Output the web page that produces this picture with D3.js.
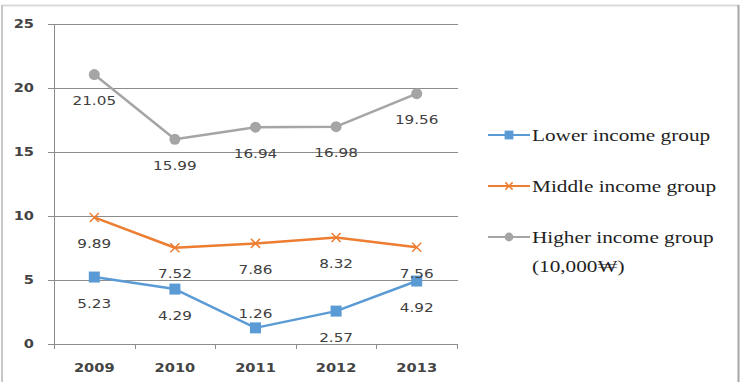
<!DOCTYPE html>
<html>
<head>
<meta charset="utf-8">
<script src="https://cdn.jsdelivr.net/npm/d3@7"></script>
<style>
  body { margin: 0; background: #fff; }
</style>
</head>
<body>
<script>
// chart data
const years = ["2009", "2010", "2011", "2012", "2013"];
const lowerIncome = [5.23, 4.29, 1.26, 2.57, 4.92];
const middleIncome = [9.89, 7.52, 7.86, 8.32, 7.56];
const higherIncome = [21.05, 15.99, 16.94, 16.98, 19.56];
const yTicks = [0, 5, 10, 15, 20, 25];
const seriesNames = ["Lower income group", "Middle income group", "Higher income group"];
const unitLabel = "(10,000\u20A9)";

const w = 747, h = 382;
const plot = { left: 54, right: 457, top: 24, bottom: 344 };
const stretch = 1.22; // reference text is wider than normal

const svg = d3.select("body").append("svg")
  .attr("width", w).attr("height", h);

// outer frame
svg.append("line").attr("x1", 2).attr("x2", 739).attr("y1", 5.5).attr("y2", 5.5)
  .attr("stroke", "#d9d9d9").attr("stroke-width", 2);
svg.append("line").attr("x1", 2).attr("x2", 2).attr("y1", 5).attr("y2", h)
  .attr("stroke", "#c8c8c8").attr("stroke-width", 2);
svg.append("line").attr("x1", 738.5).attr("x2", 738.5).attr("y1", 5).attr("y2", h)
  .attr("stroke", "#a6a6a6").attr("stroke-width", 2);

let x = d3.scaleBand().domain(years).range([plot.left, plot.right]);
let y = d3.scaleLinear().domain([0, 25]).range([plot.bottom, plot.top]);
const cx = d => x(d) + x.bandwidth() / 2;

// stretched text helper
function label(g, tx, ty, str, opts) {
  g.append("text")
    .attr("transform", `translate(${tx},${ty}) scale(${opts.sx || stretch},1)`)
    .attr("text-anchor", opts.anchor || "middle")
    .attr("dominant-baseline", "central")
    .attr("font-family", opts.family || "'DejaVu Sans', Verdana, sans-serif")
    .attr("font-size", opts.size || 12)
    .attr("font-weight", opts.weight || "normal")
    .attr("fill", opts.fill || "#404040")
    .text(str);
}

// grid lines + y labels
const grid = svg.append("g");
yTicks.forEach(t => {
  grid.append("line")
    .attr("x1", plot.left - 6).attr("x2", plot.right + 1)
    .attr("y1", Math.round(y(t)) + 0.5).attr("y2", Math.round(y(t)) + 0.5)
    .attr("stroke", "#8c8c8c").attr("stroke-width", 1);
  label(grid, 34, y(t), String(t), { anchor: "end", size: 12, weight: "bold", fill: "#444" });
});

// axes
svg.append("line").attr("x1", plot.left + 0.5).attr("x2", plot.left + 0.5)
  .attr("y1", plot.top).attr("y2", plot.bottom + 5).attr("stroke", "#8c8c8c");
const xb = x.domain().map(d => x(d)).concat([plot.right]);
xb.forEach(v => {
  svg.append("line").attr("x1", Math.round(v) + 0.5).attr("x2", Math.round(v) + 0.5)
    .attr("y1", plot.bottom).attr("y2", plot.bottom + 5).attr("stroke", "#8c8c8c");
});
years.forEach(d => label(svg, cx(d), 368, d, { size: 12, weight: "bold", fill: "#444" }));

const series = [
  { name: seriesNames[0], values: lowerIncome, color: "#5b9bd5", marker: "square" },
  { name: seriesNames[1], values: middleIncome, color: "#ed7d31", marker: "cross" },
  { name: seriesNames[2], values: higherIncome, color: "#a5a5a5", marker: "circle" }
];

let line = d3.line().x((d, i) => cx(years[i])).y(d => y(d));

function marker(g, mx, my, s, small) {
  const k = small ? 0.8 : 1;
  if (s.marker === "square") {
    g.append("rect").attr("x", mx - 5.5 * k).attr("y", my - 5.5 * k)
      .attr("width", 11 * k).attr("height", 11 * k).attr("fill", s.color);
  } else if (s.marker === "circle") {
    g.append("circle").attr("cx", mx).attr("cy", my).attr("r", 5.5 * k).attr("fill", s.color);
  } else {
    const r = 4.5 * k;
    g.append("path").attr("d", `M${mx - r},${my - r}L${mx + r},${my + r}M${mx - r},${my + r}L${mx + r},${my - r}`)
      .attr("stroke", s.color).attr("stroke-width", 1.5);
  }
}

const marks = svg.append("g");
series.forEach(s => {
  marks.append("path").datum(s.values)
    .attr("d", line).attr("fill", "none")
    .attr("stroke", s.color).attr("stroke-width", 2.5)
    .attr("stroke-linejoin", "round");
  s.values.forEach((v, i) => marker(marks, cx(years[i]), y(v), s));
});

// data labels, below points except where they would clash
series.forEach(s => {
  s.values.forEach((v, i) => {
    const above = s.marker === "square" && v < 2;
    const dy = above ? -14 : 26;
    label(svg, cx(years[i]), y(v) + dy, v.toFixed(2), { size: 12.5, fill: "#404040" });
  });
});

// legend
const leg = svg.append("g");
const legY = [135, 186, 237];
const serif = "'Liberation Serif', 'Times New Roman', serif";
series.forEach((s, i) => {
  leg.append("line").attr("x1", 488).attr("x2", 530)
    .attr("y1", legY[i]).attr("y2", legY[i])
    .attr("stroke", s.color).attr("stroke-width", 2);
  marker(leg, 509, legY[i], s, true);
  label(leg, 532, legY[i], s.name, { anchor: "start", size: 17, sx: 1.25, family: serif, fill: "#1f1f1f" });
});
label(leg, 532, 266, unitLabel, { anchor: "start", size: 17, sx: 1.25, family: serif, fill: "#1f1f1f" });
</script>
</body>
</html>
